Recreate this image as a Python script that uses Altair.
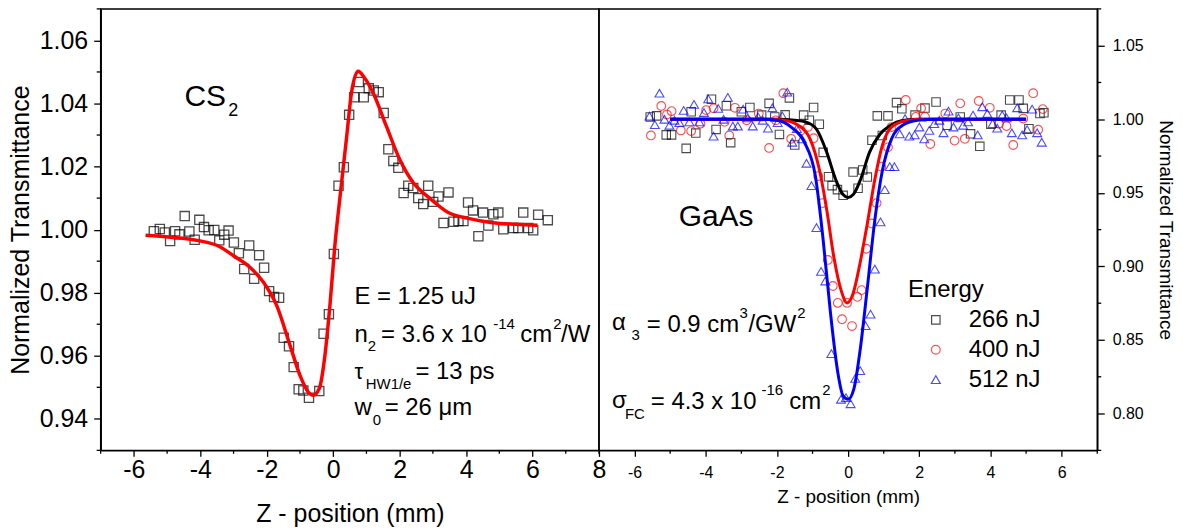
import altair as alt
import pandas as pd

FONT = "Liberation Sans"

# ---------------- CS2 panel (left) ----------------
cs2_z = [-5.40, -5.22, -5.07, -4.91, -4.76, -4.63, -4.47, -4.33, -4.17, -4.03, -3.89, -3.75, -3.58, -3.43, -3.28, -3.15,
         -2.99, -2.84, -2.68, -2.53, -2.38, -2.23, -2.08, -1.93, -1.78, -1.63, -1.49, -1.33, -1.19, -1.04, -0.90, -0.73,
         -0.42, -0.29, -0.13, 0.02, 0.16, 0.32, 0.48, 0.63, 0.77, 0.92, 1.07, 1.22, 1.37, 1.52, 1.66, 1.81, 1.96,
         2.12, 2.26, 2.41, 2.56, 2.71, 2.86, 3.01, 3.17, 3.32, 3.47, 3.62, 3.77, 3.92, 4.06, 4.21, 4.37, 4.51, 4.67,
         4.82, 4.97, 5.12, 5.42, 5.57, 5.72, 5.87, 6.02, 6.17, 6.46]
cs2_t = [0.9995, 1.0002, 0.9991, 0.9964, 0.9995, 0.9985, 1.0043, 0.9994, 0.9968, 1.0031, 1.0008, 0.9998, 0.9999, 0.9966, 0.9984, 0.9997,
         0.9959, 0.9925, 0.9875, 0.9950, 0.9844, 0.9919, 0.9879, 0.9805, 0.9786, 0.9784, 0.9657, 0.9630, 0.9564, 0.9494, 0.9490, 0.9467,
         0.9488, 0.9670, 0.9732, 0.9923, 1.0139, 1.0198, 1.0364, 1.0420, 1.0468, 1.0420, 1.0448, 1.0441, 1.0436, 1.0370, 1.0255, 1.0218, 1.0196,
         1.0116, 1.0139, 1.0132, 1.0100, 1.0081, 1.0139, 1.0088, 1.0105, 1.0021, 1.0118, 1.0025, 1.0027, 1.0027, 1.0086, 1.0061, 0.9979, 1.0054, 1.0013,
         1.0049, 1.0054, 1.0001, 1.0005, 1.0005, 1.0054, 1.0005, 0.9998, 1.0047, 1.0030]

cs2_fit_z = [-5.65, -4.9, -4.1, -3.4, -3.0, -2.5, -2.1, -1.7, -1.3, -1.0, -0.75, -0.6, -0.42, -0.25, -0.1, 0.05, 0.2,
             0.4, 0.55, 0.75, 0.95, 1.2, 1.6, 2.0, 2.4, 2.9, 3.45, 4.1, 4.8, 5.5, 6.15]
cs2_fit_t = [0.9982, 0.9976, 0.9966, 0.9945, 0.9917, 0.9880, 0.9833, 0.9759, 0.9633, 0.9538, 0.9485, 0.9475, 0.9496, 0.9601,
             0.9759, 0.9950, 1.0100, 1.0290, 1.0434, 1.0502, 1.0480, 1.0434, 1.0328, 1.0223, 1.0150, 1.0100, 1.0055, 1.0035,
             1.0022, 1.0017, 1.0014]

left_x_major = [-6, -4, -2, 0, 2, 4, 6, 8]
left_x_minor = [-7, -5, -3, -1, 1, 3, 5, 7]
left_y_major = [0.94, 0.96, 0.98, 1.00, 1.02, 1.04, 1.06]
left_y_minor = [0.93, 0.95, 0.97, 0.99, 1.01, 1.03, 1.05, 1.07]

# ---------------- GaAs panel (right) ----------------
energies = ["266 nJ", "400 nJ", "512 nJ"]
colors = ["#000000", "#ff0000", "#0000ff"]
shapes = ["square", "circle", "triangle-up"]

e266_z = [-5.56, -5.38, -5.11, -4.96, -4.55, -4.28, -4.41, -3.84, -3.71, -3.42, -3.30, -3.00, -2.76, -2.43, -2.22, -2.06,
          -1.93, -1.77, -1.65, -1.50, -1.25, -1.09, -0.97, -0.81, -0.70, -0.55, -0.45, -0.30, -0.14, 0.14, 0.28, 0.41,
          0.54, 0.67, 0.82, 0.96, 1.12, 1.36, 1.51, 1.88, 2.16, 2.47, 2.78, 3.15, 3.44, 3.70, 4.01, 4.30, 4.54, 4.80,
          4.92, 5.08, 5.39, 5.50]
e266_t = [1.0016, 1.0023, 0.9894, 0.9894, 0.9802, 0.9906, 1.0051, 1.0136, 0.9931, 1.0092, 0.9841, 1.0051, 1.0080, 1.0028,
          1.0108, 1.0016, 0.9897, 1.0030, 1.0145, 0.9825, 1.0028, 0.9993, 1.0080, 0.9966, 0.9775, 0.9609, 0.9549, 0.9522,
          0.9483, 0.9641, 0.9531, 0.9655, 0.9607, 0.9857, 1.0023, 0.9890, 1.0023, 1.0113, 1.0071, 1.0028, 1.0076, 1.0117,
          0.9959, 1.0016, 0.9901, 0.9816, 0.9966, 1.0028, 1.0131, 1.0131, 1.0074, 0.9936, 1.0039, 1.0044]

e400_z = [-5.54, -5.25, -5.09, -4.96, -4.70, -4.41, -4.15, -3.99, -3.78, -3.47, -3.34, -3.18, -2.85, -2.51, -2.22, -2.03,
          -1.82, -1.60, -1.33, -1.13, -0.97, -0.84, -0.72, -0.57, -0.43, -0.29, -0.17, -0.03, 0.11, 0.26, 0.38, 0.51,
          0.66, 0.80, 0.93, 1.12, 1.22, 1.62, 1.90, 2.05, 2.16, 2.31, 2.73, 2.99, 3.15, 3.28, 3.67, 3.98, 4.24, 4.45,
          4.64, 4.92, 5.20, 5.34, 5.47]
e400_t = [0.9890, 1.0090, 1.0032, 1.0055, 0.9924, 0.9920, 0.9970, 1.0062, 1.0074, 0.9982, 0.9890, 1.0078, 0.9993, 1.0039,
          0.9805, 0.9993, 1.0177, 0.9867, 0.9924, 0.9947, 0.9871, 0.9614, 0.9430, 0.9044, 0.8867, 0.8752, 0.8641, 0.8752,
          0.8595, 0.8793, 0.8839, 0.9120, 0.9292, 0.9430, 0.9678, 0.9809, 0.9947, 1.0131, 1.0016, 1.0074, 1.0016, 0.9832,
          1.0039, 0.9855, 1.0108, 0.9867, 1.0124, 1.0078, 0.9970, 0.9954, 0.9825, 1.0005, 1.0177, 0.9929, 1.0069]

e512_z = [-5.58, -5.43, -5.30, -5.16, -5.02, -4.88, -4.74, -4.62, -4.46, -4.33, -4.18, -4.05, -3.93, -3.78, -3.65, -3.50,
          -3.38, -3.24, -3.10, -2.95, -2.82, -2.68, -2.53, -2.40, -2.25, -2.13, -1.98, -1.85, -1.71, -1.57, -1.44, -1.30,
          -1.17, -1.03, -0.89, -0.76, -0.64, -0.47, -0.20, -0.06, 0.07, 0.20, 0.34, 0.49, 0.63, 0.75, 0.91, 1.03, 1.17,
          1.30, 1.45, 1.60, 1.72, 1.87, 2.00, 2.14, 2.28, 2.42, 2.56, 2.68, 2.82, 2.96, 3.10, 3.23, 3.37, 3.51, 3.64,
          3.77, 3.91, 4.06, 4.19, 4.33, 4.45, 4.60, 4.75, 4.89, 5.03, 5.17, 5.31, 5.44]
e512_t = [1.0021, 0.9963, 1.0177, 1.0000, 0.9959, 0.9993, 0.9977, 1.0060, 0.9982, 1.0101, 0.9982, 1.0046, 1.0138, 0.9885,
          1.0074, 1.0000, 1.0149, 0.9954, 0.9954, 1.0069, 1.0009, 0.9954, 1.0016, 0.9993, 0.9940, 1.0078, 0.9977, 1.0023,
          1.0184, 0.9844, 0.9936, 0.9867, 0.9701, 0.9549, 0.9264, 0.8966, 0.8901, 0.8407, 0.8097, 0.8108, 0.8067, 0.8239,
          0.8292, 0.8598, 0.8676, 0.8982, 0.9303, 0.9522, 0.9678, 0.9678, 0.9901, 1.0005, 0.9885, 0.9894, 0.9947, 0.9867,
          0.9924, 0.9970, 0.9993, 0.9908, 1.0055, 0.9947, 1.0009, 0.9959, 0.9982, 1.0028, 0.9894, 1.0085, 1.0039, 0.9970,
          0.9940, 1.0028, 1.0009, 0.9908, 1.0078, 0.9894, 0.9929, 1.0069, 0.9908, 0.9844]

fit266_z = [-5.0, -2.0, -1.5, -1.2, -0.9, -0.6, -0.35, -0.15, 0.0, 0.15, 0.35, 0.6, 0.9, 1.2, 1.5, 2.0, 5.0]
fit266_t = [1.0, 1.0, 0.9993, 0.9982, 0.9936, 0.9775, 0.9591, 0.9490, 0.9469, 0.9490, 0.9591, 0.9775, 0.9900, 0.9960,
            0.9990, 1.0, 1.0]
fit400_z = [-5.0, -2.2, -1.8, -1.4, -1.07, -0.81, -0.6, -0.4, -0.19, -0.03, 0.13, 0.33, 0.54, 0.75, 0.96, 1.22, 1.64, 2.1, 5.0]
fit400_t = [1.0, 1.0, 0.9993, 0.9959, 0.9867, 0.9660, 0.9384, 0.9062, 0.8832, 0.8752, 0.8809, 0.9016, 0.9292, 0.9591,
            0.9821, 0.9947, 0.9991, 1.0, 1.0]
fit512_z = [-5.0, -2.5, -2.0, -1.6, -1.23, -0.92, -0.71, -0.5, -0.29, -0.14, 0.0, 0.16, 0.33, 0.54, 0.75, 0.96, 1.22,
            1.53, 1.95, 2.5, 5.0]
fit512_t = [1.0, 1.0, 0.9993, 0.9947, 0.9844, 0.9614, 0.9200, 0.8694, 0.8280, 0.8120, 0.8097, 0.8166, 0.8418, 0.8855,
            0.9315, 0.9648, 0.9867, 0.9959, 0.9993, 1.0, 1.0]

right_x_major = [-6, -4, -2, 0, 2, 4, 6]
right_x_minor = [-7, -5, -3, -1, 1, 3, 5, 7]
right_y_major = [0.80, 0.85, 0.90, 0.95, 1.00, 1.05]
right_y_minor = [0.775, 0.825, 0.875, 0.925, 0.975, 1.025, 1.075]

W, H = 500, 443


# ---------------- helpers ----------------
def txt(s, x, y, size):
    return alt.Chart(pd.DataFrame({"s": [s]})).mark_text(
        align="left", baseline="alphabetic", font=FONT, fontSize=size, color="black"
    ).encode(text="s:N", x=alt.value(x), y=alt.value(y))


def minor_x(vals, y0, y1):
    return alt.Chart(pd.DataFrame({"z": vals})).mark_rule(color="black", strokeWidth=1.3).encode(
        x="z:Q", y=alt.value(y0), y2=alt.value(y1))


def minor_y(vals, x0, x1):
    return alt.Chart(pd.DataFrame({"t": vals})).mark_rule(color="black", strokeWidth=1.3).encode(
        y="t:Q", x=alt.value(x0), x2=alt.value(x1))


axis_common = dict(
    grid=False, domainColor="black", domainWidth=1.5, tickColor="black", tickWidth=1.3,
    labelColor="black", titleColor="black", labelFont=FONT, titleFont=FONT,
    titleFontWeight="normal", labelFlush=False, labelOverlap=False,
)

# ---------------- left chart ----------------
left_pts = pd.DataFrame({"z": cs2_z, "t": cs2_t})
left_fit = pd.DataFrame({"z": cs2_fit_z, "t": cs2_fit_t})

xL = alt.X("z:Q", scale=alt.Scale(domain=[-7, 8], nice=False, zero=False),
           axis=alt.Axis(title="Z - position (mm)", values=left_x_major,
                         labelExpr="'' + datum.value", tickSize=6,
                         labelFontSize=25, titleFontSize=25, labelPadding=1, titlePadding=19,
                         **axis_common))
yL = alt.Y("t:Q", scale=alt.Scale(domain=[0.93, 1.07], nice=False, zero=False),
           axis=alt.Axis(title="Normalized Transmittance", values=left_y_major, format=".2f", tickSize=7,
                         labelFontSize=25, titleFontSize=25, labelPadding=6, titlePadding=5,
                         minExtent=62, maxExtent=62, **axis_common))

left_points = alt.Chart(left_pts).mark_point(
    shape="square", filled=False, color="black", size=85, strokeWidth=1.3
).encode(x=xL, y=yL)
left_line = alt.Chart(left_fit).mark_line(color="#ff0000", strokeWidth=3.5, interpolate="monotone").encode(
    x="z:Q", y="t:Q")

left_texts = [
    txt("CS", 84, 97, 30), txt("2", 128, 107.5, 18),
    txt("E = 1.25 uJ", 254.6, 296, 24),
    txt("n", 254.6, 334, 24), txt("2", 268, 343, 15), txt("= 3.6 x 10", 281.4, 334, 24),
    txt("-14", 394, 321, 15), txt("cm", 421, 334, 24), txt("2", 454, 321, 15), txt("/W", 462, 334, 24),
    txt("\u03c4", 254.6, 371, 22), txt("HW1/e", 266, 381, 15), txt("= 13 ps", 315.8, 371, 24),
    txt("w", 254.6, 408, 24), txt("0", 273, 418, 15), txt("= 26 \u03bcm", 285, 408, 24),
]

left = alt.layer(
    left_points, left_line,
    minor_x(left_x_minor, H, H + 3.5), minor_y(left_y_minor, 0, -4),
    *left_texts
).properties(width=W, height=H)

# ---------------- right chart ----------------
pts = pd.concat([
    pd.DataFrame({"z": e266_z, "t": e266_t, "energy": energies[0]}),
    pd.DataFrame({"z": e400_z, "t": e400_t, "energy": energies[1]}),
    pd.DataFrame({"z": e512_z, "t": e512_t, "energy": energies[2]}),
], ignore_index=True)
fits = pd.concat([
    pd.DataFrame({"z": fit266_z, "t": fit266_t, "energy": energies[0]}),
    pd.DataFrame({"z": fit400_z, "t": fit400_t, "energy": energies[1]}),
    pd.DataFrame({"z": fit512_z, "t": fit512_t, "energy": energies[2]}),
], ignore_index=True)

xR = alt.X("z:Q", scale=alt.Scale(domain=[-7, 7], nice=False, zero=False),
           axis=alt.Axis(title="Z - position (mm)", values=right_x_major,
                         labelExpr="'' + datum.value", tickSize=6,
                         labelFontSize=16, titleFontSize=19, labelPadding=8, titlePadding=7,
                         **axis_common))
yR = alt.Y("t:Q", scale=alt.Scale(domain=[0.775, 1.075], nice=False, zero=False),
           axis=alt.Axis(title="Normalized Transmittance", orient="right", values=right_y_major, format=".2f",
                         tickSize=7, labelFontSize=16, titleFontSize=19, labelPadding=8, titlePadding=12,
                         minExtent=46, maxExtent=46, **axis_common))

right_points = alt.Chart(pts).mark_point(filled=False, strokeWidth=1.1).encode(
    x=xR, y=yR,
    color=alt.Color("energy:N", scale=alt.Scale(domain=energies, range=colors),
                    legend=alt.Legend(title="Energy", orient="none", legendX=810, legendY=270,
                                      titleFontSize=24, labelFontSize=24, titleFont=FONT, labelFont=FONT,
                                      titleFontWeight="normal", titleColor="black", labelColor="black",
                                      symbolStrokeWidth=1.2, symbolOffset=16, labelOffset=21,
                                      rowPadding=6, titlePadding=6, padding=0)),
    shape=alt.Shape("energy:N", scale=alt.Scale(domain=energies, range=shapes)),
    size=alt.Size("energy:N", scale=alt.Scale(domain=energies, range=[72, 80, 125])),
    order=alt.Order("energy:N"),
)
right_lines = alt.Chart(fits).mark_line(strokeWidth=3, interpolate="monotone").encode(
    x="z:Q", y="t:Q", detail="energy:N",
    stroke=alt.Stroke("energy:N", scale=alt.Scale(domain=energies, range=colors), legend=None),
)

right_texts = [
    txt("GaAs", 80, 218, 30),
    txt("\u03b1", 13, 322, 24), txt("3", 32.7, 332, 15), txt("= 0.9 cm", 48, 324, 24),
    txt("3", 141, 310, 15), txt("/GW", 150, 324, 24), txt("2", 199, 310, 15),
    txt("\u03c3", 13, 400, 24), txt("FC", 26, 412, 15), txt("= 4.3 x 10", 52, 401, 24),
    txt("-16", 163, 387, 15), txt("cm", 191, 401, 24), txt("2", 224, 387, 15),
]

right = alt.layer(
    right_points, right_lines,
    minor_x(right_x_minor, H, H + 3.5), minor_y(right_y_minor, W, W + 4),
    *right_texts
).properties(width=W, height=H)

chart = alt.hconcat(left, right, spacing=0, bounds="flush").properties(
    padding={"left": 0, "top": -2, "right": 0, "bottom": 0},
    background="white",
).configure_view(stroke="black", strokeWidth=1.5)

chart.save("out.html", embed_options={"renderer": "svg", "actions": False})
